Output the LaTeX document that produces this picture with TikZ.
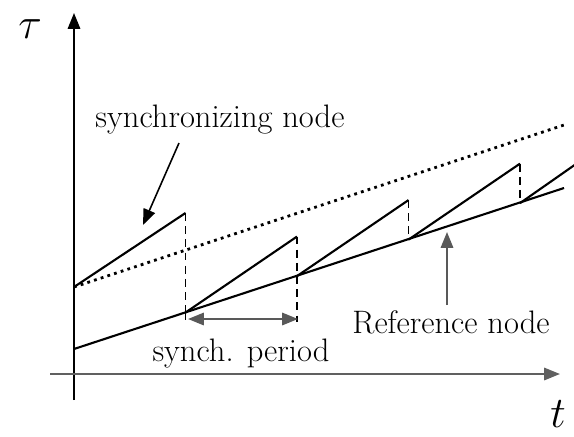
\documentclass[tikz,border=0pt]{standalone}
\usetikzlibrary{arrows.meta}

\begin{document}
\begin{tikzpicture}[x=0.02cm,y=-0.02cm,line width=1.2pt,
    font=\fontsize{18.5}{21}\selectfont,
    >={Triangle[length=9pt,width=7pt]}]
  \useasboundingbox (0,0) rectangle (574,436);
  \def\per{111.5}
  \def\sl{0.327}
  % osy
  \draw[->] (74,400) -- (74,13);
  \draw[->,gray!75!black] (50,374) -- (560,374);
  \node (tau) at (30,29) {\fontsize{46}{48}\selectfont$\tau$};
  \node (t) at (558,414) {\fontsize{40}{42}\selectfont$t$};
  % referencni primka a body synchronizace
  \foreach \k in {0,...,4}
    \coordinate (r\k) at ({74+\k*\per},{349-\sl*\k*\per});
  \coordinate (rend) at (564,188);
  \coordinate (s0) at (74,287);
  \coordinate (p0) at (r1|-0,213);
  \foreach \k in {1,...,3}
    \coordinate (p\k) at ({74+(\k+1)*\per},{349-\sl*\k*\per-76});
  \coordinate (pend) at (576,164);
  \coordinate (dend) at (564,125);
  \draw (r0) -- (rend);
  \draw[line width=1.6pt,dash pattern=on 1.6pt off 2.4pt] (s0) -- (dend);
  \draw (s0) -- (p0);
  \foreach \k in {1,...,3}
    \draw (r\k) -- (p\k);
  \draw (r4) -- (pend);
  % svisle skoky
  \foreach \a/\b in {p0/r1,p1/r2,p2/r3,p3/r4}
    \draw[line width=1pt,dash pattern=on 4.5pt off 3pt] (\a) -- (\b);
  \draw[line width=1pt,dash pattern=on 4.5pt off 3pt] (r1) -- (r1|-0,322);
  \draw[line width=1pt,dash pattern=on 4.5pt off 3pt] (r2) -- (r2|-0,322);
  % popisky
  \node (sync) at (220,120) {synchronizing node};
  \node (ref) at (451,322) {Reference node};
  \node (period) at (241,354) {synch. period};
  \coordinate (sa) at (179,143);
  \coordinate (sb) at (143,225);
  \coordinate (ra) at (447,305);
  \coordinate (rb) at (447,232);
  \coordinate (pa) at (188,319);
  \coordinate (pb) at (298,319);
  \draw[->,line width=0.9pt] (sa) -- (sb);
  \draw[->,gray!70!black] (ra) -- (rb);
  \draw[<->,gray!70!black] (pa) -- (pb);
\end{tikzpicture}
\end{document}
